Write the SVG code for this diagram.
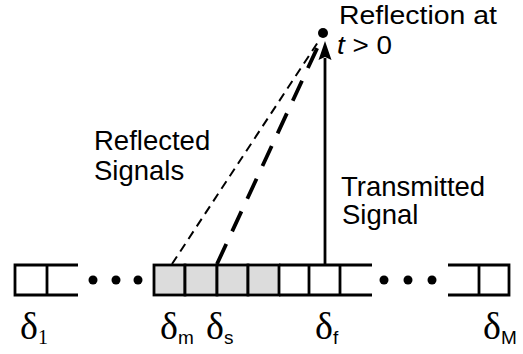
<svg xmlns="http://www.w3.org/2000/svg" width="523" height="354" viewBox="0 0 523 354">
<style>
.ln{stroke:#000;stroke-width:2.8;fill:none}
.cell{stroke:#000;stroke-width:2.8;fill:#dcdcdc}
.lbl{font-family:"Liberation Sans",Arial,sans-serif;font-size:27.5px;fill:#000}
.top{font-family:"Liberation Sans",Arial,sans-serif;font-size:26px;fill:#000}
.dl{font-family:"Liberation Serif","Times New Roman",serif;font-size:38px;fill:#000}
.sub{font-family:"Liberation Sans",Arial,sans-serif;font-size:19px}
.sub1{font-family:"Liberation Serif","Times New Roman",serif;font-size:20px}
</style>
<rect width="523" height="354" fill="#fff"/>
<g id="connectors">
<line x1="172" y1="264" x2="320" y2="39" stroke="#000" stroke-width="2" stroke-dasharray="9,6"/>
<line x1="217" y1="264" x2="320" y2="42" stroke="#000" stroke-width="3.8" stroke-dasharray="22,14"/>
<line x1="325" y1="264" x2="325" y2="58" stroke="#000" stroke-width="2.8"/>
<path d="M325,41 L331.5,60 L325,57 L318.5,60 Z" fill="#000"/>
</g>
<g id="reflection-point">
<circle cx="323" cy="33" r="5" fill="#000"/>
<text class="top" x="339" y="24" textLength="158" lengthAdjust="spacingAndGlyphs">Reflection at</text>
<text class="top" x="337" y="54" textLength="55" lengthAdjust="spacingAndGlyphs"><tspan font-style="italic">t</tspan> &gt; 0</text>
</g>
<g id="left-array">
<path class="ln" d="M78,265 H15 V295 H78 M47,265 V295"/>
<circle cx="93" cy="280" r="4.5"/><circle cx="116" cy="280" r="4.5"/><circle cx="138" cy="280" r="4.5"/>
</g>
<g id="middle-array">
<rect class="cell" x="154" y="265" width="31" height="30"/>
<rect class="cell" x="185" y="265" width="32" height="30"/>
<rect class="cell" x="217" y="265" width="31" height="30"/>
<rect class="cell" x="248" y="265" width="31" height="30"/>
<path class="ln" d="M279,265 H372 M279,295 H372 M309,265 V295 M340,265 V295"/>
</g>
<g id="right-array">
<circle cx="384" cy="280" r="4.5"/><circle cx="408" cy="280" r="4.5"/><circle cx="432" cy="280" r="4.5"/>
<path class="ln" d="M448,265 H509 V295 H448 M479,265 V295"/>
</g>
<g id="reflected-label">
<text class="lbl" x="94" y="150">Reflected</text>
<text class="lbl" x="94" y="180">Signals</text>
</g>
<g id="transmitted-label">
<text class="lbl" x="341" y="196">Transmitted</text>
<text class="lbl" x="342" y="224">Signal</text>
</g>
<g id="delta-labels">
<text class="dl" x="20" y="339">δ<tspan class="sub1" dy="5">1</tspan></text>
<text class="dl" x="160" y="339">δ<tspan class="sub" dy="5">m</tspan></text>
<text class="dl" x="206" y="339">δ<tspan class="sub" dy="5">s</tspan></text>
<text class="dl" x="315" y="339">δ<tspan class="sub" dy="5">f</tspan></text>
<text class="dl" x="483" y="339">δ<tspan class="sub" dy="5">M</tspan></text>
</g>
</svg>
